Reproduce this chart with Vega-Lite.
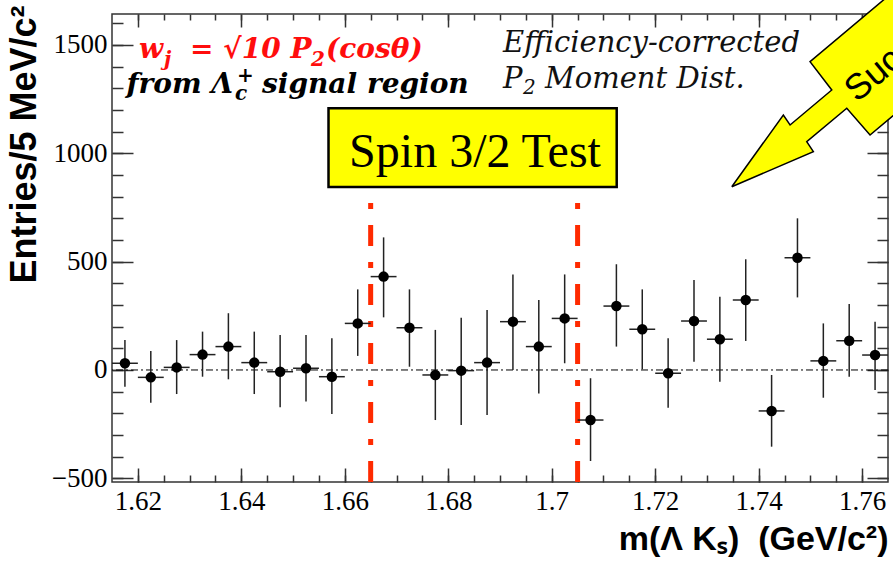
{
"$schema": "https://vega.github.io/schema/vega-lite/v6.json",
"width": 776, "height": 468,
"autosize": {"type": "none"},
"padding": {"left": 112, "top": 14, "right": 5, "bottom": 88},
"background": "white",
"config": {
  "view": {"stroke": "#333", "strokeWidth": 1.5},
  "axis": {"grid": false, "domain": false, "tickColor": "#333", "tickWidth": 1.5, "labelFont": "Liberation Serif", "labelFontSize": 27, "labelColor": "#000", "labelFlush": false, "labelOverlap": false}
},
"datasets": {
  "hist": [
    {"m": 1.6175, "m1": 1.615, "m2": 1.62, "n": 31, "lo": -77, "hi": 138},
    {"m": 1.6225, "m1": 1.62, "m2": 1.625, "n": -34, "lo": -151, "hi": 88},
    {"m": 1.6275, "m1": 1.625, "m2": 1.63, "n": 12, "lo": -111, "hi": 138},
    {"m": 1.6325, "m1": 1.63, "m2": 1.635, "n": 71, "lo": -31, "hi": 177},
    {"m": 1.6375, "m1": 1.635, "m2": 1.64, "n": 108, "lo": -43, "hi": 262},
    {"m": 1.6425, "m1": 1.64, "m2": 1.645, "n": 34, "lo": -111, "hi": 177},
    {"m": 1.6475, "m1": 1.645, "m2": 1.65, "n": -8, "lo": -172, "hi": 162},
    {"m": 1.6525, "m1": 1.65, "m2": 1.655, "n": 8, "lo": -146, "hi": 162},
    {"m": 1.6575, "m1": 1.655, "m2": 1.66, "n": -31, "lo": -203, "hi": 146},
    {"m": 1.6625, "m1": 1.66, "m2": 1.665, "n": 215, "lo": 65, "hi": 372},
    {"m": 1.6675, "m1": 1.665, "m2": 1.67, "n": 431, "lo": 243, "hi": 612},
    {"m": 1.6725, "m1": 1.67, "m2": 1.675, "n": 195, "lo": 15, "hi": 372},
    {"m": 1.6775, "m1": 1.675, "m2": 1.68, "n": -23, "lo": -231, "hi": 185},
    {"m": 1.6825, "m1": 1.68, "m2": 1.685, "n": -3, "lo": -254, "hi": 241},
    {"m": 1.6875, "m1": 1.685, "m2": 1.69, "n": 34, "lo": -208, "hi": 277},
    {"m": 1.6925, "m1": 1.69, "m2": 1.695, "n": 223, "lo": 0, "hi": 441},
    {"m": 1.6975, "m1": 1.695, "m2": 1.7, "n": 108, "lo": -108, "hi": 323},
    {"m": 1.7025, "m1": 1.7, "m2": 1.705, "n": 238, "lo": 31, "hi": 441},
    {"m": 1.7075, "m1": 1.705, "m2": 1.71, "n": -231, "lo": -420, "hi": -38},
    {"m": 1.7125, "m1": 1.71, "m2": 1.715, "n": 295, "lo": 108, "hi": 488},
    {"m": 1.7175, "m1": 1.715, "m2": 1.72, "n": 188, "lo": 3, "hi": 372},
    {"m": 1.7225, "m1": 1.72, "m2": 1.725, "n": -15, "lo": -174, "hi": 146},
    {"m": 1.7275, "m1": 1.725, "m2": 1.73, "n": 226, "lo": 38, "hi": 415},
    {"m": 1.7325, "m1": 1.73, "m2": 1.735, "n": 142, "lo": -54, "hi": 338},
    {"m": 1.7375, "m1": 1.735, "m2": 1.74, "n": 323, "lo": 134, "hi": 511},
    {"m": 1.7425, "m1": 1.74, "m2": 1.745, "n": -189, "lo": -354, "hi": -23},
    {"m": 1.7475, "m1": 1.745, "m2": 1.75, "n": 518, "lo": 335, "hi": 700},
    {"m": 1.7525, "m1": 1.75, "m2": 1.755, "n": 42, "lo": -128, "hi": 215},
    {"m": 1.7575, "m1": 1.755, "m2": 1.76, "n": 135, "lo": -31, "hi": 305},
    {"m": 1.7625, "m1": 1.76, "m2": 1.765, "n": 69, "lo": -92, "hi": 223}
  ],
  "edges": [{"edge": 1.665}, {"edge": 1.705}],
  "one": [{"id": 1}],
  "arrow": [
    {"k": 1, "ax": 1.7348, "ay": 845.9},
    {"k": 2, "ax": 1.74477, "ay": 1176.8},
    {"k": 3, "ax": 1.74607, "ay": 1130.7},
    {"k": 4, "ax": 1.75413, "ay": 1292.2},
    {"k": 5, "ax": 1.74993, "ay": 1422.8},
    {"k": 6, "ax": 1.78666, "ay": 2159.9},
    {"k": 7, "ax": 1.79826, "ay": 1823},
    {"k": 8, "ax": 1.76153, "ay": 1084.5},
    {"k": 9, "ax": 1.75703, "ay": 1207.8},
    {"k": 10, "ax": 1.74929, "ay": 1053.6},
    {"k": 11, "ax": 1.75057, "ay": 1007.5},
    {"k": 12, "ax": 1.7348, "ay": 845.9}
  ]
},
"resolve": {"axis": {"x": "independent", "y": "independent"}},
"layer": [
  {
    "data": {"name": "one"},
    "mark": {"type": "rule", "color": "#000", "strokeWidth": 1, "strokeDash": [7, 3, 2, 3]},
    "encoding": {"y": {"datum": 0, "type": "quantitative", "scale": {"domain": [-517, 1643], "nice": false, "zero": false}, "axis": null}}
  },
  {
    "data": {"name": "edges"},
    "mark": {"type": "rule", "color": "#ff2a00", "strokeWidth": 5, "strokeDash": [21, 16, 6, 16]},
    "encoding": {
      "x": {"field": "edge", "type": "quantitative", "scale": {"domain": [1.615, 1.765], "nice": false, "zero": false},
            "axis": {"orient": "top", "values": [1.62,1.625,1.63,1.635,1.64,1.645,1.65,1.655,1.66,1.665,1.67,1.675,1.68,1.685,1.69,1.695,1.7,1.705,1.71,1.715,1.72,1.725,1.73,1.735,1.74,1.745,1.75,1.755,1.76], "tickSize": -6, "labels": false, "title": null}},
      "y": {"datum": -517, "type": "quantitative",
            "axis": {"orient": "right", "values": [-500,-400,-300,-200,-100,0,100,200,300,400,500,600,700,800,900,1000,1100,1200,1300,1400,1500,1600], "tickSize": -11, "labels": false, "title": null}},
      "y2": {"datum": 850}
    }
  },
  {
    "data": {"name": "hist"},
    "mark": {"type": "rule", "color": "#222", "strokeWidth": 1.5},
    "encoding": {
      "x": {"field": "m", "type": "quantitative", "scale": {"domain": [1.615, 1.765], "nice": false, "zero": false},
            "axis": {"orient": "bottom", "values": [1.62,1.625,1.63,1.635,1.64,1.645,1.65,1.655,1.66,1.665,1.67,1.675,1.68,1.685,1.69,1.695,1.7,1.705,1.71,1.715,1.72,1.725,1.73,1.735,1.74,1.745,1.75,1.755,1.76], "tickSize": -7, "labels": false, "title": null}},
      "y": {"field": "lo", "type": "quantitative", "scale": {"domain": [-517, 1643], "nice": false, "zero": false},
            "axis": {"orient": "left", "values": [-500,-400,-300,-200,-100,0,100,200,300,400,500,600,700,800,900,1000,1100,1200,1300,1400,1500,1600], "tickSize": -11, "labels": false, "title": null}},
      "y2": {"field": "hi"}
    }
  },
  {
    "data": {"name": "hist"},
    "mark": {"type": "rule", "color": "#222", "strokeWidth": 1.5},
    "encoding": {
      "x": {"field": "m1", "type": "quantitative",
            "axis": {"orient": "top", "values": [1.62,1.64,1.66,1.68,1.7,1.72,1.74,1.76], "tickSize": -13, "labels": false, "title": null}},
      "x2": {"field": "m2"},
      "y": {"field": "n", "type": "quantitative",
            "axis": {"orient": "right", "values": [-500,0,500,1000,1500], "tickSize": -21, "labels": false, "title": null}}
    }
  },
  {
    "data": {"name": "hist"},
    "mark": {"type": "circle", "color": "#000", "size": 110, "opacity": 1},
    "encoding": {
      "x": {"field": "m", "type": "quantitative",
            "axis": {"orient": "bottom", "values": [1.62,1.64,1.66,1.68,1.7,1.72,1.74,1.76], "format": "~g", "tickSize": -14, "labelPadding": 20,
                     "title": "m(Λ Kₛ)\u00a0\u00a0(GeV/c²)", "titleFont": "Liberation Sans", "titleFontSize": 34, "titleFontWeight": "bold", "titleColor": "#000",
                     "titleAlign": "right", "titleBaseline": "alphabetic", "titleX": 776, "titleY": 67}},
      "y": {"field": "n", "type": "quantitative",
            "axis": {"orient": "left", "values": [-500,0,500,1000,1500], "format": "d", "tickSize": -21, "labelPadding": 26,
                     "title": "Entries/5 MeV/c²", "titleFont": "Liberation Sans", "titleFontSize": 36, "titleFontWeight": "bold", "titleColor": "#000",
                     "titleAngle": -90, "titleAlign": "right", "titleBaseline": "alphabetic", "titleX": -77, "titleY": -9}}
    }
  },
  {
    "data": {"name": "one"},
    "mark": {"type": "rect", "fill": "#ffff00", "stroke": "#000", "strokeWidth": 2.5},
    "encoding": {
      "x": {"datum": 1.65685, "type": "quantitative", "axis": null},
      "x2": {"datum": 1.71256},
      "y": {"datum": 844.5, "type": "quantitative", "axis": null},
      "y2": {"datum": 1207.8}
    }
  },
  {
    "data": {"name": "one"},
    "mark": {"type": "text", "text": "Spin 3/2 Test", "font": "Liberation Serif", "fontSize": 48, "align": "center", "baseline": "alphabetic", "color": "#000"},
    "encoding": {"x": {"datum": 1.68517, "type": "quantitative", "axis": null}, "y": {"datum": 936.9, "type": "quantitative", "axis": null}}
  },
  {
    "data": {"name": "one"},
    "mark": {"type": "text", "text": "w", "font": "DejaVu Serif", "fontSize": 28, "fontStyle": "italic", "fontWeight": "bold", "align": "right", "baseline": "alphabetic", "color": "#ff0d0d"},
    "encoding": {"x": {"datum": 1.62486, "type": "quantitative", "axis": null}, "y": {"datum": 1439.9, "type": "quantitative", "axis": null}}
  },
  {
    "data": {"name": "one"},
    "mark": {"type": "text", "text": "j", "font": "DejaVu Serif", "fontSize": 20, "fontStyle": "italic", "fontWeight": "bold", "align": "left", "baseline": "alphabetic", "color": "#ff0d0d", "dy": 8},
    "encoding": {"x": {"datum": 1.62505, "type": "quantitative", "axis": null}, "y": {"datum": 1439.9, "type": "quantitative", "axis": null}}
  },
  {
    "data": {"name": "one"},
    "mark": {"type": "text", "text": "= √10 P", "font": "DejaVu Serif", "fontSize": 28, "fontStyle": "italic", "fontWeight": "bold", "align": "left", "baseline": "alphabetic", "color": "#ff0d0d"},
    "encoding": {"x": {"datum": 1.6301, "type": "quantitative", "axis": null}, "y": {"datum": 1439.9, "type": "quantitative", "axis": null}}
  },
  {
    "data": {"name": "one"},
    "mark": {"type": "text", "text": "2", "font": "DejaVu Serif", "fontSize": 20, "fontStyle": "italic", "fontWeight": "bold", "align": "left", "baseline": "alphabetic", "color": "#ff0d0d", "dy": 8},
    "encoding": {"x": {"datum": 1.65347, "type": "quantitative", "axis": null}, "y": {"datum": 1439.9, "type": "quantitative", "axis": null}}
  },
  {
    "data": {"name": "one"},
    "mark": {"type": "text", "text": "(cosθ)", "font": "DejaVu Serif", "fontSize": 28, "fontStyle": "italic", "fontWeight": "bold", "align": "left", "baseline": "alphabetic", "color": "#ff0d0d"},
    "encoding": {"x": {"datum": 1.65637, "type": "quantitative", "axis": null}, "y": {"datum": 1439.9, "type": "quantitative", "axis": null}}
  },
  {
    "data": {"name": "one"},
    "mark": {"type": "text", "text": "from Λ", "font": "DejaVu Serif", "fontSize": 28, "fontStyle": "italic", "fontWeight": "bold", "align": "right", "baseline": "alphabetic", "color": "#000"},
    "encoding": {"x": {"datum": 1.63839, "type": "quantitative", "axis": null}, "y": {"datum": 1277, "type": "quantitative", "axis": null}}
  },
  {
    "data": {"name": "one"},
    "mark": {"type": "text", "text": "c", "font": "DejaVu Serif", "fontSize": 20, "fontStyle": "italic", "fontWeight": "bold", "align": "left", "baseline": "alphabetic", "color": "#000", "dy": 7},
    "encoding": {"x": {"datum": 1.63878, "type": "quantitative", "axis": null}, "y": {"datum": 1277, "type": "quantitative", "axis": null}}
  },
  {
    "data": {"name": "one"},
    "mark": {"type": "text", "text": "+", "font": "DejaVu Serif", "fontSize": 20, "fontStyle": "italic", "fontWeight": "bold", "align": "left", "baseline": "alphabetic", "color": "#000", "dy": -11},
    "encoding": {"x": {"datum": 1.63916, "type": "quantitative", "axis": null}, "y": {"datum": 1277, "type": "quantitative", "axis": null}}
  },
  {
    "data": {"name": "one"},
    "mark": {"type": "text", "text": "signal region", "font": "DejaVu Serif", "fontSize": 28, "fontStyle": "italic", "fontWeight": "bold", "align": "left", "baseline": "alphabetic", "color": "#000"},
    "encoding": {"x": {"datum": 1.644, "type": "quantitative", "axis": null}, "y": {"datum": 1277, "type": "quantitative", "axis": null}}
  },
  {
    "data": {"name": "one"},
    "mark": {"type": "text", "text": "Efficiency-corrected", "font": "DejaVu Serif", "fontSize": 29, "fontStyle": "italic", "align": "left", "baseline": "alphabetic", "color": "#111"},
    "encoding": {"x": {"datum": 1.69058, "type": "quantitative", "axis": null}, "y": {"datum": 1467.6, "type": "quantitative", "axis": null}}
  },
  {
    "data": {"name": "one"},
    "mark": {"type": "text", "text": "P", "font": "DejaVu Serif", "fontSize": 29, "fontStyle": "italic", "align": "left", "baseline": "alphabetic", "color": "#111"},
    "encoding": {"x": {"datum": 1.69058, "type": "quantitative", "axis": null}, "y": {"datum": 1301.5, "type": "quantitative", "axis": null}}
  },
  {
    "data": {"name": "one"},
    "mark": {"type": "text", "text": "2", "font": "DejaVu Serif", "fontSize": 20, "fontStyle": "italic", "align": "left", "baseline": "alphabetic", "color": "#111", "dy": 6},
    "encoding": {"x": {"datum": 1.69445, "type": "quantitative", "axis": null}, "y": {"datum": 1301.5, "type": "quantitative", "axis": null}}
  },
  {
    "data": {"name": "one"},
    "mark": {"type": "text", "text": "Moment Dist.", "font": "DejaVu Serif", "fontSize": 29, "fontStyle": "italic", "align": "left", "baseline": "alphabetic", "color": "#111"},
    "encoding": {"x": {"datum": 1.69871, "type": "quantitative", "axis": null}, "y": {"datum": 1301.5, "type": "quantitative", "axis": null}}
  },
  {
    "data": {"name": "arrow"},
    "mark": {"type": "line", "fill": "#ffff00", "stroke": "#000", "strokeWidth": 1.5, "clip": false},
    "encoding": {
      "x": {"field": "ax", "type": "quantitative", "axis": null},
      "y": {"field": "ay", "type": "quantitative", "axis": null},
      "order": {"field": "k", "type": "quantitative"}
    }
  },
  {
    "data": {"name": "one"},
    "mark": {"type": "text", "text": "Success", "font": "Liberation Sans", "fontSize": 36, "angle": -40, "align": "left", "baseline": "alphabetic", "color": "#000"},
    "encoding": {"x": {"datum": 1.75902, "type": "quantitative", "axis": null}, "y": {"datum": 1232.2, "type": "quantitative", "axis": null}}
  }
]
}
